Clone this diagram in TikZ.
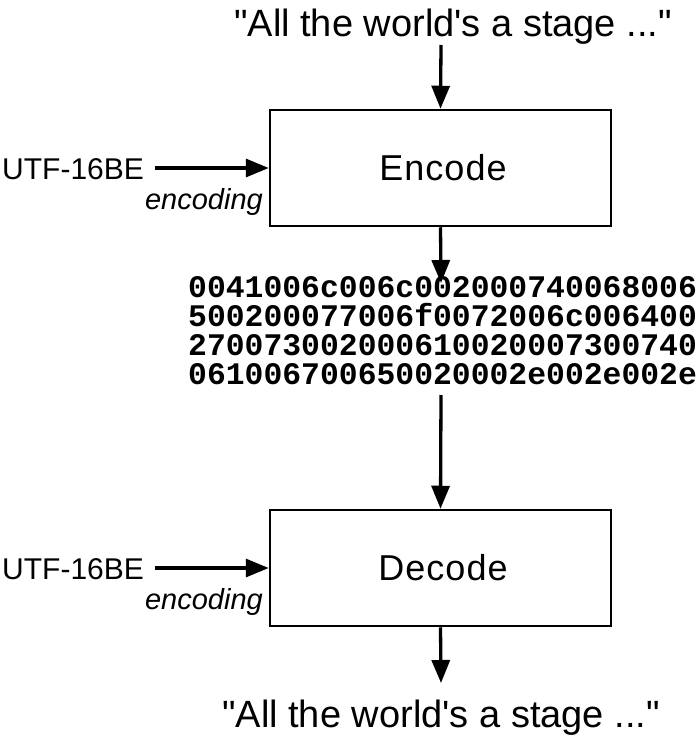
\documentclass[tikz,border=0pt]{standalone}
\usepackage{fontspec}
\setmainfont{Liberation Sans}[Ligatures=TeXOff]
\newfontfamily\hexfont{Liberation Mono}[Ligatures=TeXOff]
\usetikzlibrary{arrows.meta}
\begin{document}
\begin{tikzpicture}[x=1pt,y=-1pt,
  flow/.style={line width=3.3pt,-{Triangle[length=23pt,width=18pt]}},
  procbox/.style={draw,line width=2.5pt,minimum width=341pt,minimum height=116pt,inner sep=0pt},
  boxtext/.style={inner sep=0pt,font=\fontsize{36}{40}\selectfont\addfontfeature{LetterSpace=3}},
  bigtext/.style={inner sep=0pt,font=\fontsize{38}{40}\selectfont},
  enclabel/.style={inner sep=0pt,font=\fontsize{30}{34}\selectfont},
  encitalic/.style={inner sep=0pt,font=\fontsize{29}{34}\selectfont\itshape},
  hex/.style={inner sep=0pt,align=left,font=\fontsize{31.4}{29}\selectfont\hexfont\bfseries}
]
\useasboundingbox (0,0) rectangle (700,746);
% top text
\node[bigtext,anchor=base] (intext) at (453,37) {"All the world's a stage ..."};
\coordinate (intop) at (441,45);
% encode box
\node[procbox] (enc) at (440.5,168) {};
\node[boxtext,anchor=base] (enclbl) at (443,180) {Encode};
% hex
\node[hex,anchor=base west] (hexout) at (188,384) {0041006c006c002000740068006\\500200077006f0072006c006400\\270073002000610020007300740\\061006700650020002e002e002e};
\coordinate (hexbot) at (441,395);
\coordinate (hextop) at (441,283);
% decode box
\node[procbox] (dec) at (440.5,568) {};
\node[boxtext,anchor=base] (declbl) at (443,580) {Decode};
\coordinate (outtip) at (441,683);
\node[bigtext,anchor=base] (outtext) at (441,727) {"All the world's a stage ..."};
% left labels
\node[enclabel,anchor=base west] (u1) at (2,179) {UTF-16BE};
\node[encitalic,anchor=base east] (e1) at (263,209) {encoding};
\node[enclabel,anchor=base west] (u2) at (2,579) {UTF-16BE};
\node[encitalic,anchor=base east] (e2) at (263,609) {encoding};
\coordinate (a1) at (155,168);
\coordinate (a2) at (155,568);
% arrows
\draw[flow] (intop) -- (enc.north);
\draw[flow] (enc.south) -- (hextop);
\draw[flow] (hexbot) -- (dec.north);
\draw[flow] (dec.south) -- (outtip);
\draw[flow] (a1) -- (enc.west);
\draw[flow] (a2) -- (dec.west);
\end{tikzpicture}
\end{document}
